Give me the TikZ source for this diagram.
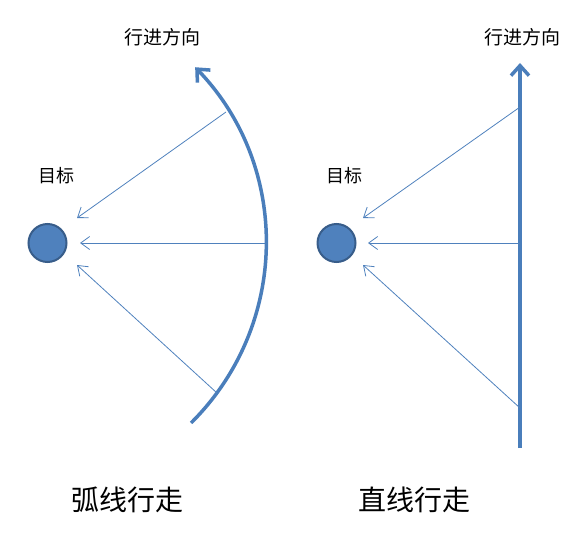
\documentclass[tikz,border=0pt]{standalone}
\usepackage{fontspec}
\setmainfont{Noto Sans CJK SC}
\usetikzlibrary{arrows.meta,calc}
\definecolor{thickblue}{HTML}{4A7EBB}
\definecolor{thinblue}{HTML}{4F81BD}
\definecolor{fillblue}{HTML}{4F81BD}
\definecolor{edgeblue}{HTML}{385D8A}
\tikzset{
  target/.style={circle,fill=fillblue,draw=edgeblue,line width=2pt,minimum size=38pt,inner sep=0pt},
  ray/.style={draw=thinblue,line width=0.8pt,-{Straight Barb[length=9pt,width=13pt,line width=0.8pt]}},
  path/.style={draw=thickblue,line width=3.5pt,-{Straight Barb[length=10pt,width=18pt,line width=3.5pt]}},
  lbl/.style={inner sep=0pt,text=black},
}
\begin{document}
\begin{tikzpicture}[x=1pt,y=1pt]
\useasboundingbox (0,0) rectangle (588,542);
% left: arc
\node[target] (c1) at (47.5,299) {};
\coordinate (ac) at (12.5,299);
\coordinate (a0) at ($(ac)+(-45.2:253.5)$);
\draw[path] (a0) arc[start angle=-45.2,end angle=43.9,radius=253.5pt];
\coordinate (s1) at (226,430);
\coordinate (s2) at (265,299);
\coordinate (s3) at (217,149);
\coordinate (e1) at (77,324);
\coordinate (e2) at (80,299);
\coordinate (e3) at (77,277);
\draw[ray] (s1) -- (e1);
\draw[ray] (s2) -- (e2);
\draw[ray] (s3) -- (e3);
\node[lbl,font=\fontsize{18}{18}\selectfont] (t1) at (56,366) {目标};
\node[lbl,font=\fontsize{19}{19}\selectfont] (d1) at (162,505) {行进方向};
\node[lbl,font=\fontsize{28}{28}\selectfont] (b1) at (127,42) {弧线行走};
% right: straight
\node[target] (c2) at (336.5,299) {};
\coordinate (v0) at (520,94);
\coordinate (v1) at (520,479);
\draw[path] (v0) -- (v1);
\coordinate (r1) at (520,435);
\coordinate (r2) at (520,299);
\coordinate (r3) at (520,134);
\coordinate (f1) at (363,324);
\coordinate (f2) at (368,299);
\coordinate (f3) at (363,277);
\draw[ray] (r1) -- (f1);
\draw[ray] (r2) -- (f2);
\draw[ray] (r3) -- (f3);
\node[lbl,font=\fontsize{18}{18}\selectfont] (t2) at (344,366) {目标};
\node[lbl,font=\fontsize{19}{19}\selectfont] (d2) at (522,505) {行进方向};
\node[lbl,font=\fontsize{28}{28}\selectfont] (b2) at (414,42) {直线行走};
\end{tikzpicture}
\end{document}
